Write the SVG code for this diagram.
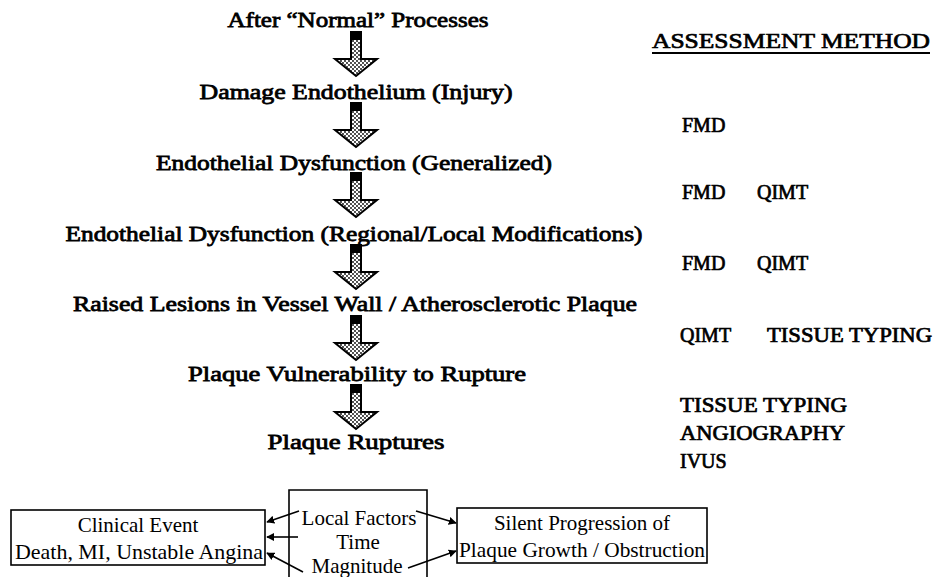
<svg xmlns="http://www.w3.org/2000/svg" xmlns:xlink="http://www.w3.org/1999/xlink" width="934" height="577" viewBox="0 0 934 577">
<style>
text{font-family:'Liberation Serif','Times New Roman',serif;font-weight:normal;fill:#000}
.main{font-size:22px;text-anchor:middle;stroke:#000;stroke-width:0.8}
.meth{font-size:20px;stroke:#000;stroke-width:0.7}
.box{font-size:21px;text-anchor:middle}
.frame{fill:#fff;stroke:#000;stroke-width:1.6}
.conn{fill:none;stroke:#000;stroke-width:1.6}
</style>
<defs>
<pattern id="dots" width="4" height="4" patternUnits="userSpaceOnUse">
<rect width="4" height="4" fill="#fff"/>
<circle cx="1" cy="1" r="0.9" fill="#000"/>
<circle cx="3" cy="3" r="0.9" fill="#000"/>
</pattern>
<g id="arr">
<path d="M-5,0 H5 V27 H21 L0,44 L-21,27 H-5 Z" fill="url(#dots)" stroke="#000" stroke-width="2" stroke-linejoin="miter"/>
<rect x="-5" y="0" width="10" height="8" fill="#000"/>
</g>
<marker id="ah" viewBox="0 0 10 10" refX="9" refY="5" markerWidth="8" markerHeight="8" markerUnits="userSpaceOnUse" orient="auto">
<path d="M0,0 L10,5 L0,10 Z" fill="#000"/>
</marker>
</defs>
<rect width="934" height="577" fill="#fff"/>

<g id="n1"><text class="main" x="358" y="27" textLength="261" lengthAdjust="spacingAndGlyphs">After “Normal” Processes</text></g>
<g id="n2"><text class="main" x="356" y="99" textLength="313" lengthAdjust="spacingAndGlyphs">Damage Endothelium (Injury)</text></g>
<g id="n3"><text class="main" x="354" y="170" textLength="396" lengthAdjust="spacingAndGlyphs">Endothelial Dysfunction (Generalized)</text></g>
<g id="n4"><text class="main" x="354" y="241" textLength="577" lengthAdjust="spacingAndGlyphs">Endothelial Dysfunction (Regional/Local Modifications)</text></g>
<g id="n5"><text class="main" x="355" y="311" textLength="564" lengthAdjust="spacingAndGlyphs">Raised Lesions in Vessel Wall / Atherosclerotic Plaque</text></g>
<g id="n6"><text class="main" x="357" y="381" textLength="338" lengthAdjust="spacingAndGlyphs">Plaque Vulnerability to Rupture</text></g>
<g id="n7"><text class="main" x="356" y="449" textLength="177" lengthAdjust="spacingAndGlyphs">Plaque Ruptures</text></g>

<g id="flow-arrows">
<use xlink:href="#arr" href="#arr" transform="translate(356,32)"/>
<use xlink:href="#arr" href="#arr" transform="translate(356,103)"/>
<use xlink:href="#arr" href="#arr" transform="translate(356,173)"/>
<use xlink:href="#arr" href="#arr" transform="translate(356,245)"/>
<use xlink:href="#arr" href="#arr" transform="translate(356,316)"/>
<use xlink:href="#arr" href="#arr" transform="translate(356,385)"/>
</g>

<g id="methods">
<text class="meth" x="652" y="48" style="font-size:22px" textLength="278" lengthAdjust="spacingAndGlyphs">ASSESSMENT METHOD</text>
<line x1="652" y1="53" x2="930" y2="53" stroke="#000" stroke-width="2"/>
<text class="meth" x="682" y="132">FMD</text>
<text class="meth" x="682" y="199">FMD</text>
<text class="meth" x="757" y="199">QIMT</text>
<text class="meth" x="682" y="270">FMD</text>
<text class="meth" x="757" y="270">QIMT</text>
<text class="meth" x="680" y="342">QIMT</text>
<text class="meth" x="767" y="342" textLength="165" lengthAdjust="spacingAndGlyphs">TISSUE TYPING</text>
<text class="meth" x="680" y="412" textLength="167" lengthAdjust="spacingAndGlyphs">TISSUE TYPING</text>
<text class="meth" x="680" y="440" textLength="165" lengthAdjust="spacingAndGlyphs">ANGIOGRAPHY</text>
<text class="meth" x="680" y="468">IVUS</text>
</g>

<g id="clinical">
<rect class="frame" x="11" y="510" width="254" height="55"/>
<text class="box" x="138" y="532">Clinical Event</text>
<text class="box" x="139" y="559" textLength="248" lengthAdjust="spacingAndGlyphs">Death, MI, Unstable Angina</text>
</g>
<g id="factors">
<path class="conn" d="M289,577 V490 H427 V577"/>
<text class="box" x="359" y="525">Local Factors</text>
<text class="box" x="358" y="549">Time</text>
<text class="box" x="357" y="573">Magnitude</text>
</g>
<g id="silent">
<rect class="frame" x="457" y="508" width="250" height="55"/>
<text class="box" x="582" y="530">Silent Progression of</text>
<text class="box" x="582" y="557" textLength="246" lengthAdjust="spacingAndGlyphs">Plaque Growth / Obstruction</text>
</g>

<g id="connectors">
<line class="conn" x1="299" y1="511" x2="267" y2="522" marker-end="url(#ah)"/>
<line class="conn" x1="298" y1="537" x2="267" y2="537" marker-end="url(#ah)"/>
<line class="conn" x1="303" y1="572" x2="267" y2="553" marker-end="url(#ah)"/>
<line class="conn" x1="416" y1="511" x2="456" y2="523" marker-end="url(#ah)"/>
<line class="conn" x1="408" y1="568" x2="456" y2="551" marker-end="url(#ah)"/>
</g>
</svg>
